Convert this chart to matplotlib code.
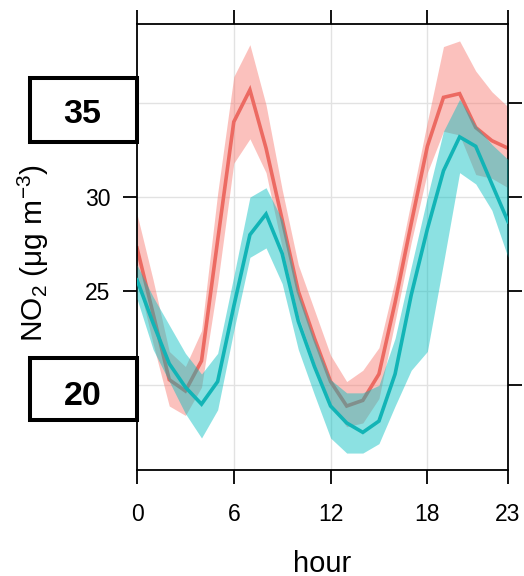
import matplotlib
matplotlib.use("Agg")
import matplotlib.pyplot as plt
from matplotlib.patches import Rectangle

plt.rcParams['font.family'] = ['Liberation Sans', 'DejaVu Sans']
plt.rcParams['mathtext.fontset'] = 'custom'
plt.rcParams['mathtext.rm'] = 'Liberation Sans'
plt.rcParams['mathtext.it'] = 'Liberation Sans:italic'
plt.rcParams['mathtext.bf'] = 'Liberation Sans:bold'

hours = list(range(24))

red_mean = [27.3, 23.8, 20.3, 19.7, 21.3, 27.7, 34.0, 35.7, 32.6, 28.8, 25.0, 22.5,
            20.2, 18.9, 19.2, 20.6, 24.4, 28.6, 32.7, 35.3, 35.5, 33.7, 33.0, 32.6]
red_upper = [29.1, 25.6, 21.8, 21.0, 22.9, 30.2, 36.4, 38.1, 34.9, 30.4, 26.4, 24.0,
             21.6, 20.2, 20.8, 22.0, 25.6, 29.8, 34.0, 38.0, 38.3, 36.7, 35.6, 34.8]
red_lower = [25.8, 22.2, 18.9, 18.4, 19.9, 25.4, 31.8, 33.1, 31.3, 27.3, 23.7, 21.2,
             19.0, 17.8, 18.0, 19.3, 23.4, 27.6, 31.3, 33.5, 33.3, 31.2, 31.0, 30.5]

cyan_mean = [25.6, 23.3, 21.15, 19.9, 19.0, 20.2, 24.2, 28.0, 29.1, 27.0, 23.4, 21.0,
             18.9, 18.0, 17.5, 18.1, 20.6, 24.8, 28.3, 31.4, 33.2, 32.7, 30.7, 28.7]
cyan_upper = [26.4, 24.7, 23.2, 21.7, 20.6, 21.7, 25.8, 30.0, 30.5, 28.8, 24.9, 22.4,
              20.3, 19.6, 19.6, 20.0, 22.5, 26.3, 30.0, 33.5, 35.2, 33.8, 32.8, 32.0]
cyan_lower = [24.6, 21.9, 20.2, 18.5, 17.2, 18.7, 22.9, 26.8, 27.3, 25.4, 21.9, 19.5,
              17.2, 16.4, 16.4, 16.9, 18.9, 20.8, 21.8, 26.5, 31.3, 30.7, 29.3, 26.8]

x_ticks = [0, 6, 12, 18, 23]
y_ticks = [20, 25, 30, 35]
box_labels = ["35", "20"]

W, H = 524, 576
fig = plt.figure(figsize=(W / 100, H / 100), dpi=100)
ax = fig.add_axes([137 / W, 1 - 470 / H, (508 - 137) / W, (470 - 24) / H])

ax.set_xlim(0, 23)
ax.set_ylim(15.5, 39.2)

for v in [6, 12, 18]:
    ax.axvline(v, color='#e2e2e2', lw=1.0, zorder=0)
for v in y_ticks:
    ax.axhline(v, color='#e2e2e2', lw=1.0, zorder=0)

red_line = '#EC6A62'
red_fill = '#F8766D'
cyan_line = '#12B4B6'
cyan_fill = '#00BEC0'

ax.fill_between(hours, red_lower, red_upper, color=red_fill, alpha=0.45, lw=0, zorder=1)
ax.plot(hours, red_mean, color=red_line, lw=2.6, zorder=2, solid_joinstyle='miter')
ax.fill_between(hours, cyan_lower, cyan_upper, color=cyan_fill, alpha=0.45, lw=0, zorder=3)
ax.plot(hours, cyan_mean, color=cyan_line, lw=2.6, zorder=4, solid_joinstyle='miter')

ax.set_xticks(x_ticks)
ax.set_yticks(y_ticks)
ax.tick_params(axis='both', which='both', direction='out', length=10, width=1.3,
               labelsize=16.5, colors='black',
               top=True, right=True, labeltop=False, labelright=False)
ax.tick_params(axis='x', pad=14)
ax.tick_params(axis='y', pad=9)
for s in ax.spines.values():
    s.set_linewidth(1.3)
    s.set_color('black')

fig.text(322.5 / W, 1 - 572 / H, "hour", ha='center', va='baseline', fontsize=21)
fig.text(43 / W, 1 - 253 / H, r'NO$_2$ ($\mathrm{\mu}$g m$^{-3}$)', rotation=90,
         rotation_mode='anchor', ha='center', va='baseline', fontsize=21.5)

# label boxes
boxes = [(30.3, 78, 136.5, 142, 123.3), (30.3, 358, 137, 419.5, 405)]
for lab, (x0, y0, x1, y1, base) in zip(box_labels, boxes):
    r = Rectangle((x0 / W, 1 - y1 / H), (x1 - x0) / W, (y1 - y0) / H,
                  transform=fig.transFigure, facecolor='white', edgecolor='black',
                  lw=2.9, zorder=5)
    fig.add_artist(r)
    fig.text(82.5 / W, 1 - base / H, lab, ha='center', va='baseline',
             fontsize=24.5, fontweight='bold', zorder=6)

fig.savefig("out.png", dpi=100, facecolor='white')
